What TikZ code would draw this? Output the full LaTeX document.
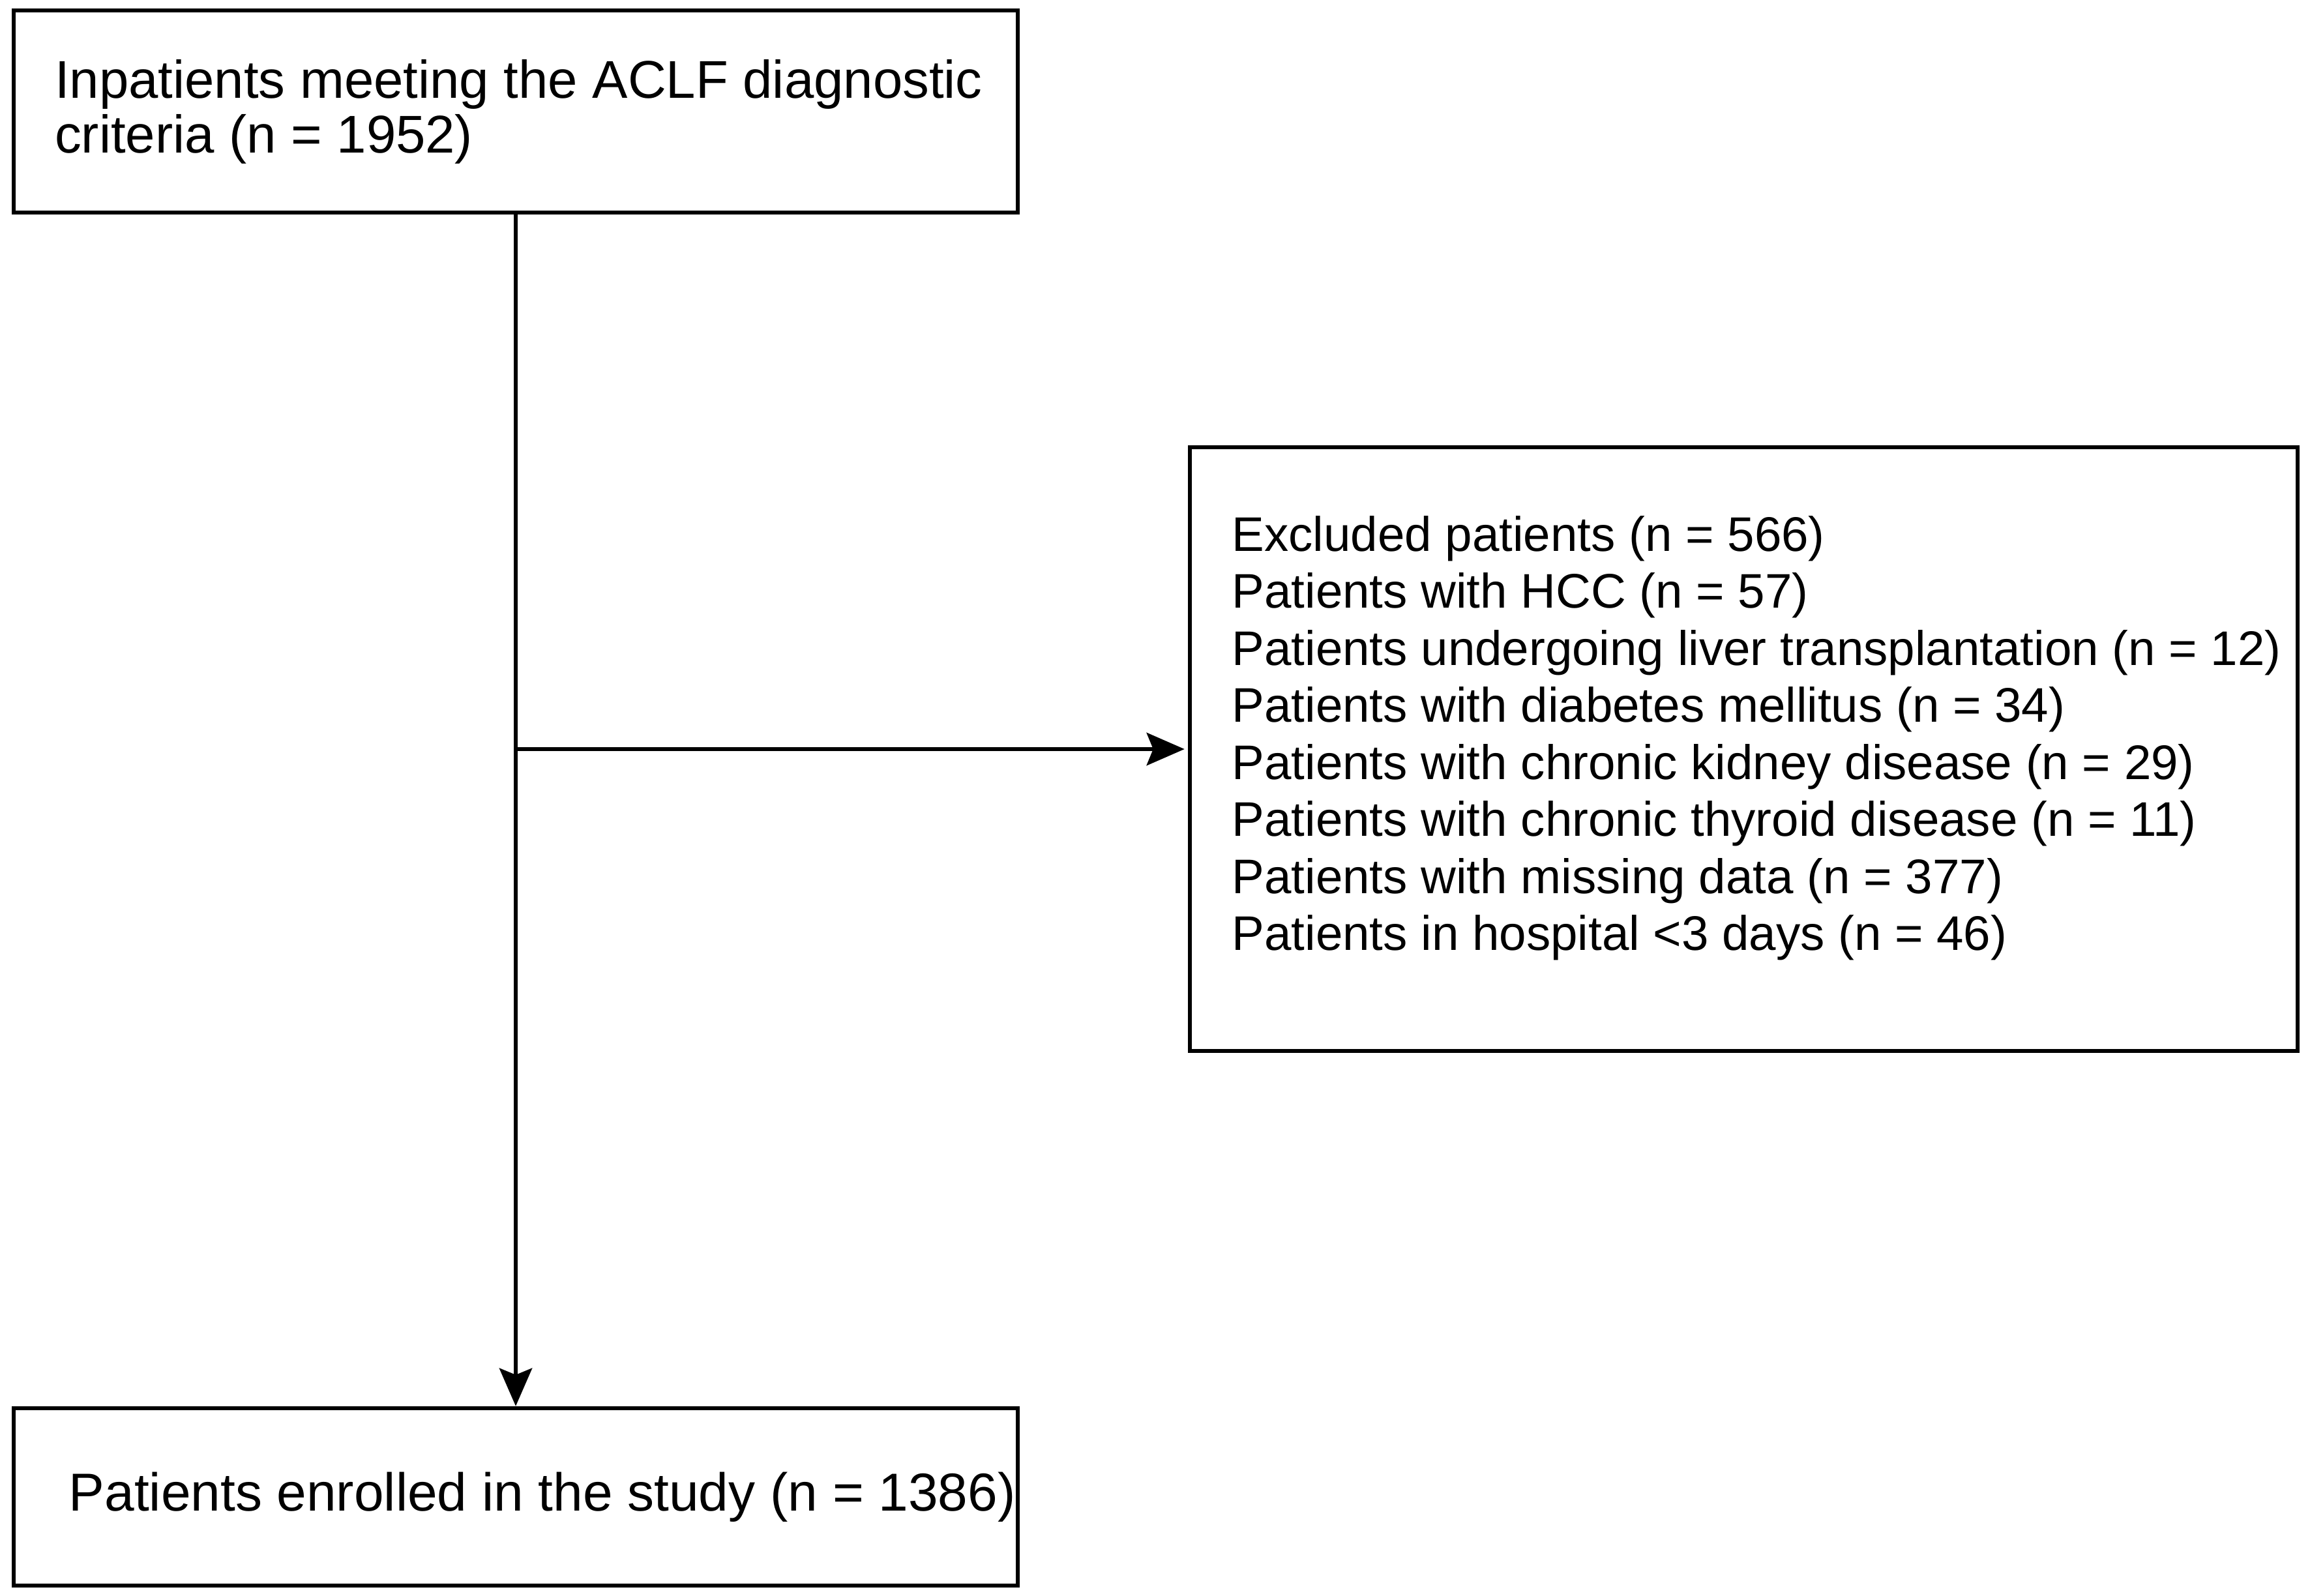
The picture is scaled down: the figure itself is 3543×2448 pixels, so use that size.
\documentclass[tikz,border=0pt]{standalone}
\usepackage{fontspec}
\setmainfont{Liberation Sans}
\usetikzlibrary{arrows.meta}
\tikzset{box/.style={draw,line width=1.3pt,inner sep=0pt},
flow/.style={-{Stealth[length=11.6pt,width=10pt,inset=2pt]},line width=1.3pt},
lbl/.style={anchor=west,align=left,inner sep=0pt}}

\begin{document}
\begin{tikzpicture}[x=0.2pt,y=-0.2pt]
\useasboundingbox (0,0) rectangle (3543,2448);
\node[box,minimum width=308pt,minimum height=62pt] (adm) at (791,171) {};
\node[box,minimum width=339.8pt,minimum height=185.2pt] (excl) at (2674.5,1149) {};
\node[box,minimum width=308pt,minimum height=54.4pt] (enr) at (791,2296) {};
\node[lbl,font=\fontsize{16.3pt}{16.8pt}\selectfont] (admtxt) at ([xshift=13.1pt]adm.west)
{Inpatients meeting the ACLF diagnostic\\criteria (n = 1952)};
\node[lbl,font=\fontsize{14.9pt}{17.5pt}\selectfont] (excltxt) at ([xshift=13.4pt,yshift=3.4pt]excl.west)
{Excluded patients (n = 566)\\
Patients with HCC (n = 57)\\
Patients undergoing liver transplantation (n = 12)\\
Patients with diabetes mellitus (n = 34)\\
Patients with chronic kidney disease (n = 29)\\
Patients with chronic thyroid disease (n = 11)\\
Patients with missing data (n = 377)\\
Patients in hospital <3 days (n = 46)};
\node[lbl,font=\fontsize{16.4pt}{16.8pt}\selectfont] (enrtxt) at ([xshift=17.4pt]enr.west)
{Patients enrolled in the study (n = 1386)};
% connectors
\coordinate (split) at (adm.south |- excl.west);
\draw[flow] (adm.south) -- (enr.north);
\draw[flow,shorten >=1pt] (split) -- (excl.west);
\end{tikzpicture}
\end{document}
